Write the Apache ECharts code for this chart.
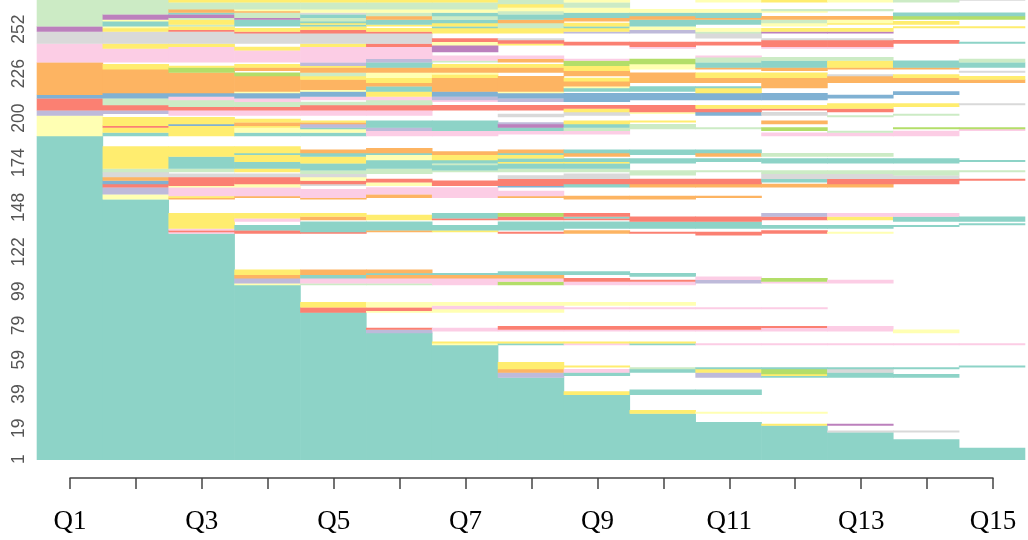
<!DOCTYPE html>
<html>
<head>
<meta charset="utf-8">
<script src="https://cdn.jsdelivr.net/npm/echarts@6/dist/echarts.min.js"></script>
<style>
  html, body { margin: 0; padding: 0; background: #fff; }
  #chart { width: 1028px; height: 540px; }
</style>
</head>
<body>
<div id="chart"></div>
<script>
// columns of the sequence plot
const questions = ['Q1', 'Q2', 'Q3', 'Q4', 'Q5', 'Q6', 'Q7', 'Q8', 'Q9', 'Q10', 'Q11', 'Q12', 'Q13', 'Q14', 'Q15']
// sequence index labels on the left
const yTickLabels = [1, 19, 39, 59, 79, 99, 122, 148, 174, 200, 226, 252]

// state codes (a..l), '.' = no answer / end of sequence
const stateCodes = ['a', 'b', 'c', 'd', 'e', 'f', 'g', 'h', 'i', 'j', 'k', 'l']
const stateColors = ['#8DD3C7', '#FFFFB3', '#BEBADA', '#FB8072', '#80B1D3', '#FDB462',
  '#B3DE69', '#FCCDE5', '#D9D9D9', '#BC80BD', '#CCEBC5', '#FFED6F']

// runs per column, from the bottom sequence upwards: state + last sequence index of the run
const q1Runs = 'a189 b201 c204 d211 e213 f232 h243 i250 j253 k269'
const q2Runs = 'a152 b155 c159 d161 e163 f165 i168 k170 l183 .189 a191 l194 d195 l200 .202 c204 d207 k211 e214 f228 l231 .232 h240 l243 i250 l252 b253 a256 b257 j260 k269'
const q3Runs = 'a132 h133 d134 h135 l144 .152 f153 l154 h159 b160 d165 i167 .168 k170 a177 l183 .189 l195 e196 l200 .201 h204 d206 k210 h212 e214 f226 g229 l230 .232 h241 l243 i250 d251 l253 k254 l257 k258 j260 a261 f263 k267 l269'
const q4Runs = 'a102 b103 c106 f108 l111 .132 d134 a137 .139 h141 l144 .153 f154 h159 b161 d165 i167 .168 l170 a174 l178 a179 l183 .189 a191 b194 l195 f197 l199 .201 h204 d206 k209 h211 e214 b215 f224 g226 .227 f229 l231 .232 h239 l241 .243 i249 d250 l252 .253 a257 j258 k261 f262 b263 k267 l269'
const q5Runs = 'a86 d89 l92 .102 k103 h106 a108 f111 .132 d133 a139 .140 f142 l144 .152 f153 h158 .160 i161 d163 b165 i167 k169 a173 l177 a179 f181 .189 a191 b193 a194 c196 f197 l198 .201 h204 d207 k209 .210 h212 e215 b216 f222 l224 k226 f229 l230 c232 h241 l243 i249 d251 l253 a254 l255 a256 k258 a260 i261 b263 k267 l269'
const q6Runs = 'a74 c76 d77 .86 b87 d89 b92 .102 k103 h106 f108 a109 f111 .133 f134 a139 .140 l143 .153 f155 h159 .160 b162 d164 .167 k170 a175 b178 a179 f182 .189 h192 c194 a198 .201 h204 d207 k210 h212 l215 a218 f220 l223 b226 f229 a232 c234 h241 d243 i249 d250 l252 .253 l254 a257 f259 k261 b263 k267 l269'
const q7Runs = 'a67 b68 l69 .75 h77 .86 b88 h90 b92 .102 h106 f108 a109 .133 l134 a137 .140 d141 a144 .153 h159 .160 d163 .168 k169 a172 k173 a175 l178 f180 .189 h192 a198 .204 d207 .209 h210 c212 e215 f223 l225 b226 f229 l231 .232 k233 h236 .238 j242 b244 d246 .249 l252 a253 l255 a257 k259 a261 b263 k267 l269'
const q8Runs = 'a48 c51 f53 l57 .67 a68 l69 .75 h76 d78 .86 b88 h90 b92 .102 g104 h106 f108 a110 .132 d133 .134 a139 .140 d142 g144 .153 f154 h157 .159 e160 d164 i166 .168 k170 a173 l174 a176 l178 a179 f181 .190 h192 a194 j196 c197 .200 i202 .204 d207 .209 c211 e214 b215 f224 .226 f229 l231 .232 f234 h236 .242 l243 d245 i246 .249 l252 k255 f257 a260 k262 b264 l266 k269'
const q9Runs = 'a38 l40 .49 a51 h53 .54 l55 .67 h68 l69 .75 h76 d78 .88 h89 .90 b92 .102 h104 d106 .108 a110 .132 f134 .135 a139 .140 d141 a142 d144 .152 f154 .159 a161 d164 i167 .168 k170 a173 l174 a176 .177 f179 a181 .190 h192 k194 a196 l198 .201 i203 l205 d207 .209 e214 .215 a217 b218 f221 l223 .224 f227 l230 g233 h234 .242 d244 .249 c250 l252 a253 l255 .256 f258 a261 b264 k267 b269'
const q10Runs = 'a27 l29 .38 a41 .51 a53 k54 .67 a68 l69 .75 h76 d78 .88 h89 .90 b92 .102 h104 d105 .107 a109 .132 d133 .135 a139 d142 .152 f154 .159 f161 d164 .166 k169 .173 a176 .178 a181 .193 k196 .197 l198 .202 b203 d207 .210 e214 .215 a218 .220 f226 .228 b231 g234 .240 h241 d244 .249 c251 b253 a257 f259 a261 b263 .269'
const q11Runs = 'a22 .27 b28 .38 a41 .48 c51 l53 a54 .67 h68 .75 h76 d78 .88 h89 .103 c105 h107 .131 d133 .135 a139 d142 .153 f154 .159 f161 d164 .168 k169 .174 a176 .177 f179 a181 .193 k194 .201 e203 d205 l207 .210 e214 l217 a218 .220 f223 l226 .228 f229 a232 k235 h236 .242 d244 .246 i249 k250 b252 .254 a257 f258 a261 b263 .267 b269'
const q12Runs = 'a20 l21 .27 b28 .48 a49 l50 g53 a54 .67 h68 .75 h77 d78 .88 h89 .103 h104 g106 .132 d134 .135 a137 .140 d142 c144 .159 f161 .162 a164 i167 k169 .173 a176 .177 k179 .189 h191 .192 g194 .196 f198 .201 i203 .204 d205 l207 .210 e214 .217 f223 l226 .227 f229 a233 k235 .240 h241 d245 i246 .249 j250 l252 .253 b255 k257 f259 .261 b262 k263 .267 l269'
const q13Runs = 'a16 i17 .20 j21 .48 a51 i53 a54 .67 h68 .75 h78 .103 h105 .132 b133 .135 a137 .140 l142 h144 .159 f161 d164 i167 k169 .173 a176 .177 k179 .189 h191 k192 .200 k201 .203 d205 l208 .211 e213 .220 f224 i225 .228 f229 l233 k235 .240 h241 d245 i246 .249 j250 l252 .254 l255 b257 f259 .262 k263 .267 b269'
const q14Runs = 'a12 .16 i17 .48 a50 .53 a54 .67 h68 .74 b76 .136 a137 .139 a142 h144 .161 d164 i166 k169 .173 a176 .189 h192 .193 g194 .201 k202 .206 l208 .213 e215 .220 f223 l225 .228 f229 a233 .243 d245 .252 l253 .254 l256 .257 g259 a261 .267 k269'
const q15Runs = 'a7 .54 a55 .67 h68 .137 a138 .139 a142 .163 d164 .168 k169 .174 a175 .192 h193 g194 .207 i208 .220 f222 l224 .226 i227 .229 a232 k234 .243 a244 .252 l253 .257 g259 a261 .268 i269'

const columnRuns = [q1Runs, q2Runs, q3Runs, q4Runs, q5Runs, q6Runs, q7Runs, q8Runs,
  q9Runs, q10Runs, q11Runs, q12Runs, q13Runs, q14Runs, q15Runs]

// [column, fromIndex, toIndex, state]
const cells = []
columnRuns.forEach((runs, ci) => {
  let start = 0
  runs.split(' ').forEach(tok => {
    const code = tok[0]
    const end = Number(tok.slice(1))
    if (code !== '.') cells.push([ci + 1, start, end, stateCodes.indexOf(code)])
    start = end
  })
})

const chart = echarts.init(document.getElementById('chart'))

const axisColor = '#444'

const option = {
  animation: false,
  grid: [
    { left: 37, right: 3, top: 0, bottom: 80 },
    { left: 70, right: 35, top: 470, height: 8 }
  ],
  xAxis: [
    { type: 'value', gridIndex: 0, min: 0.5, max: 15.5, show: false },
    {
      type: 'category',
      gridIndex: 1,
      data: questions,
      boundaryGap: false,
      position: 'bottom',
      axisLine: { lineStyle: { color: axisColor, width: 1.5 } },
      axisTick: { interval: 0, length: 11, lineStyle: { color: axisColor, width: 1.5 } },
      axisLabel: {
        interval: 1,
        margin: 30,
        color: '#000',
        fontSize: 27,
        fontFamily: 'Liberation Serif'
      },
      splitLine: { show: false }
    }
  ],
  yAxis: [
    {
      type: 'value',
      gridIndex: 0,
      min: 0,
      max: 268.5,
      axisLine: { show: false },
      axisTick: { show: false },
      splitLine: { show: false },
      axisLabel: {
        customValues: yTickLabels.map(v => v - 0.5),
        formatter: v => String(Math.round(v + 0.5)),
        rotate: 90,
        margin: 9,
        color: '#555',
        fontSize: 17.5,
        fontFamily: 'Liberation Sans'
      }
    },
    { type: 'value', gridIndex: 1, show: false }
  ],
  series: [
    {
      type: 'custom',
      xAxisIndex: 0,
      yAxisIndex: 0,
      silent: true,
      data: cells,
      encode: { x: 0, y: [1, 2] },
      renderItem: (params, api) => {
        const col = api.value(0)
        const topLeft = api.coord([col - 0.5, api.value(2)])
        const bottomRight = api.coord([col + 0.5, api.value(1)])
        // small overlap so neighbouring cells do not leave hairline seams
        return {
          type: 'rect',
          shape: {
            x: topLeft[0] - 0.3,
            y: topLeft[1] - 0.3,
            width: bottomRight[0] - topLeft[0] + 0.6,
            height: bottomRight[1] - topLeft[1] + 0.3
          },
          style: { fill: stateColors[api.value(3)] }
        }
      }
    }
  ]
}

chart.setOption(option)
</script>
</body>
</html>
